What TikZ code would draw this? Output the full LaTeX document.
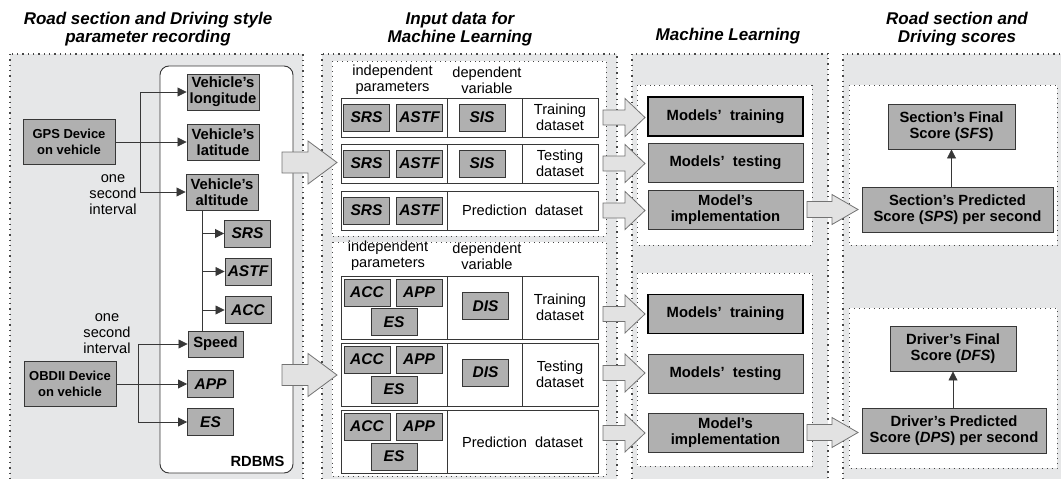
\documentclass[tikz,border=0pt]{standalone}
\usepackage{fontspec}
\setmainfont{Liberation Sans}
\usetikzlibrary{arrows.meta}

\definecolor{panelgray}{RGB}{230,231,232}
\definecolor{boxgray}{RGB}{176,176,176}
\definecolor{linegray}{RGB}{55,55,55}
\definecolor{dotgray}{RGB}{70,70,70}
\definecolor{fatgray}{RGB}{226,226,226}

% block arrow: tail x, neck x, tip x, centre y, half shaft, half head
\newcommand{\fatarrow}[6]{%
  \draw[fat] (#1,#4-#5) -- (#2,#4-#5) -- (#2,#4-#6) -- (#3,#4)
    -- (#2,#4+#6) -- (#2,#4+#5) -- (#1,#4+#5) -- cycle;}

\begin{document}
\begin{tikzpicture}[x=1pt,y=-1pt,
    panel/.style={fill=panelgray,draw=dotgray,line width=1.3pt,dash pattern=on 1.3pt off 4pt},
    lane/.style={fill=white,draw=dotgray,line width=0.9pt,dash pattern=on 0.9pt off 4pt},
    box/.style={draw=linegray,fill=boxgray,line width=0.9pt,align=center,inner sep=1pt,
        font=\fontsize{14.8}{16}\selectfont\bfseries},
    dev/.style={box,minimum width=92pt,minimum height=45pt,font=\fontsize{13}{16}\selectfont\bfseries},
    veh/.style={box,minimum width=72pt,minimum height=36pt},
    tag/.style={box,minimum width=46pt,minimum height=27pt,font=\fontsize{15.5}{16}\selectfont\bfseries\itshape},
    ml/.style={box,minimum width=155pt,minimum height=39pt},
    mltop/.style={ml,draw=black,line width=1.6pt},
    score/.style={box,minimum height=45pt},
    cell/.style={draw=linegray,fill=white,line width=0.9pt,inner sep=0pt,outer sep=0pt,
        minimum height=39pt,align=center,font=\fontsize{14.6}{16.5}\selectfont},
    tall/.style={minimum height=63pt},
    indcell/.style={cell,minimum width=106pt},
    depcell/.style={cell,minimum width=75pt},
    setcell/.style={cell,minimum width=76pt},
    predcell/.style={cell,minimum width=151pt},
    note/.style={align=center,font=\fontsize{14.6}{16}\selectfont},
    title/.style={align=center,font=\fontsize{17}{18}\selectfont\bfseries\itshape},
    link/.style={draw=linegray,line width=0.8pt,-{Triangle[length=9pt,width=9pt]}},
    fat/.style={draw=gray!90!black,fill=fatgray,line width=0.8pt}
]
\useasboundingbox (0,0) rectangle (1061,479);

% columns
\draw[panel] (10,54) rectangle (303,486);
\draw[panel] (322,54) rectangle (617,486);
\draw[panel] (632,54) rectangle (828,486);
\draw[panel] (843,54) rectangle (1068,486);

\draw[lane] (332,61) rectangle (606,236);
\draw[lane] (332,242) rectangle (606,476);
\draw[lane] (637,85) rectangle (812,245);
\draw[lane] (637,273) rectangle (812,466);
\draw[lane] (849,85) rectangle (1057,245);
\draw[lane] (849,308) rectangle (1057,468);

\node[title] (t1) at (148,29) {Road section and Driving style\\parameter recording};
\node[title] (t2) at (460,29) {Input data for\\Machine Learning};
\node[title] (t3) at (728,36) {Machine Learning};
\node[title] (t4) at (957,29) {Road section and\\Driving scores};

% recording
\draw[draw=linegray,fill=white,line width=0.9pt,rounded corners=9pt] (160,66) rectangle (293,473);
\node[font=\fontsize{14.7}{16}\selectfont\bfseries,anchor=east] (rdbms) at (288,461) {RDBMS};

\node[dev] (gps) at (69,142) {GPS Device\\on vehicle};
\node[veh] (lon) at (223,92) {Vehicle's\\longitude};
\node[veh] (lat) at (223,142) {Vehicle's\\latitude};
\node[veh] (alt) at (222,192) {Vehicle's\\altitude};
\node[tag] (srs) at (247.5,233.5) {SRS};
\node[tag] (astf) at (248,271.5) {ASTF};
\node[tag] (acc) at (248,310) {ACC};
\node[box,minimum width=55pt,minimum height=26pt] (speed) at (215.5,344) {Speed};
\node[dev] (obd) at (70,384) {OBDII Device\\on vehicle};
\node[tag] (app) at (210.5,384) {APP};
\node[tag] (es) at (210.5,422) {ES};
\node[note] (gpsnote) at (113,195) {one\\second\\interval};
\node[note] (obdnote) at (107,334) {one\\second\\interval};

\coordinate (gpsfork) at (140,142);
\coordinate (obdfork) at (138,384);
\coordinate (trunk) at (202,0);

\draw[link] (gps) -- (lat);
\draw[link] (gpsfork) |- (lon);
\draw[link] (gpsfork) |- (alt);
\draw[draw=linegray,line width=0.8pt] (alt.south -| trunk) -- (speed.north -| trunk);
\draw[link] (srs -| trunk) -- (srs);
\draw[link] (astf -| trunk) -- (astf);
\draw[link] (acc -| trunk) -- (acc);
\draw[link] (obd) -- (app);
\draw[link] (obdfork) |- (speed);
\draw[link] (obdfork) |- (es);

\fatarrow{282}{308}{337}{162.5}{10.5}{21.5}
\fatarrow{282}{308}{337}{375}{10.5}{21.5}

% datasets, road section
\node[note] (indA) at (392.5,80) {independent\\parameters};
\node[note] (depA) at (487,80) {dependent\\variable};

\node[indcell] (indA1) at (394,117.5) {};
\node[depcell] (depA1) at (484.5,117.5) {};
\node[setcell] (setA1) at (560,117.5) {Training\\dataset};
\node[indcell] (indA2) at (394,163.5) {};
\node[depcell] (depA2) at (484.5,163.5) {};
\node[setcell] (setA2) at (560,163.5) {Testing\\dataset};
\node[indcell] (indA3) at (394,210.5) {};
\node[predcell] (setA3) at (522.5,210.5) {Prediction~ dataset};

\node[tag] (srsA1) at (366.5,117.5) {SRS};
\node[tag] (astfA1) at (419.5,117.5) {ASTF};
\node[tag] (sisA1) at (482,117.5) {SIS};
\node[tag] (srsA2) at (366.5,163.5) {SRS};
\node[tag] (astfA2) at (419.5,163.5) {ASTF};
\node[tag] (sisA2) at (482,163.5) {SIS};
\node[tag] (srsA3) at (366.5,210.5) {SRS};
\node[tag] (astfA3) at (419.5,210.5) {ASTF};

% datasets, driving style
\node[note] (indB) at (388,256) {independent\\parameters};
\node[note] (depB) at (487,256) {dependent\\variable};

\node[indcell,tall] (indB1) at (394,307.5) {};
\node[depcell,tall] (depB1) at (484.5,307.5) {};
\node[setcell,tall] (setB1) at (560,307.5) {Training\\dataset};
\node[indcell,tall] (indB2) at (394,374.5) {};
\node[depcell,tall] (depB2) at (484.5,374.5) {};
\node[setcell,tall] (setB2) at (560,374.5) {Testing\\dataset};
\node[indcell,tall] (indB3) at (394,442) {};
\node[predcell,tall] (setB3) at (522.5,442) {Prediction~ dataset};

\node[tag] (accB1) at (367,292.5) {ACC};
\node[tag] (appB1) at (419,292.5) {APP};
\node[tag] (esB1) at (394,322) {ES};
\node[tag] (disB1) at (485.5,306) {DIS};
\node[tag] (accB2) at (367,359.5) {ACC};
\node[tag] (appB2) at (419,359.5) {APP};
\node[tag] (esB2) at (394,389.5) {ES};
\node[tag] (disB2) at (485.5,372.5) {DIS};
\node[tag] (accB3) at (367,426.5) {ACC};
\node[tag] (appB3) at (419,426.5) {APP};
\node[tag] (esB3) at (394,456.5) {ES};

\fatarrow{603}{625}{645}{117.5}{7.5}{19}
\fatarrow{603}{625}{645}{163.5}{7.5}{19}
\fatarrow{603}{625}{645}{210.5}{7.5}{19}
\fatarrow{603}{625}{645}{314}{7.5}{19}
\fatarrow{603}{625}{645}{373}{7.5}{19}
\fatarrow{603}{625}{645}{433}{7.5}{19}

% learning
\node[mltop] (trainA) at (725.5,116.5) {Models'~ training};
\node[ml] (testA) at (725.5,162.5) {Models'~ testing};
\node[ml] (implA) at (725.5,209.5) {Model's\\implementation};
\node[mltop] (trainB) at (725.5,314) {Models'~ training};
\node[ml] (testB) at (725.5,373.5) {Models'~ testing};
\node[ml] (implB) at (725.5,432.5) {Model's\\implementation};

\fatarrow{807}{832}{858}{209.5}{8}{15}
\fatarrow{807}{832}{858}{432.5}{8}{15}

% scores
\node[score,minimum width=127pt] (sfs) at (951.5,126.5) {Section's Final\\Score (\textit{SFS})};
\node[score,minimum width=191pt] (sps) at (957.5,209.5) {Section's Predicted\\Score (\textit{SPS}) per second};
\node[score,minimum width=126pt] (dfs) at (953,348.5) {Driver's Final\\Score (\textit{DFS})};
\node[score,minimum width=184pt] (dps) at (954,430.5) {Driver's Predicted\\Score (\textit{DPS}) per second};

\draw[link] (sps.north -| sfs) -- (sfs);
\draw[link] (dps.north -| dfs) -- (dfs);
\end{tikzpicture}
\end{document}
